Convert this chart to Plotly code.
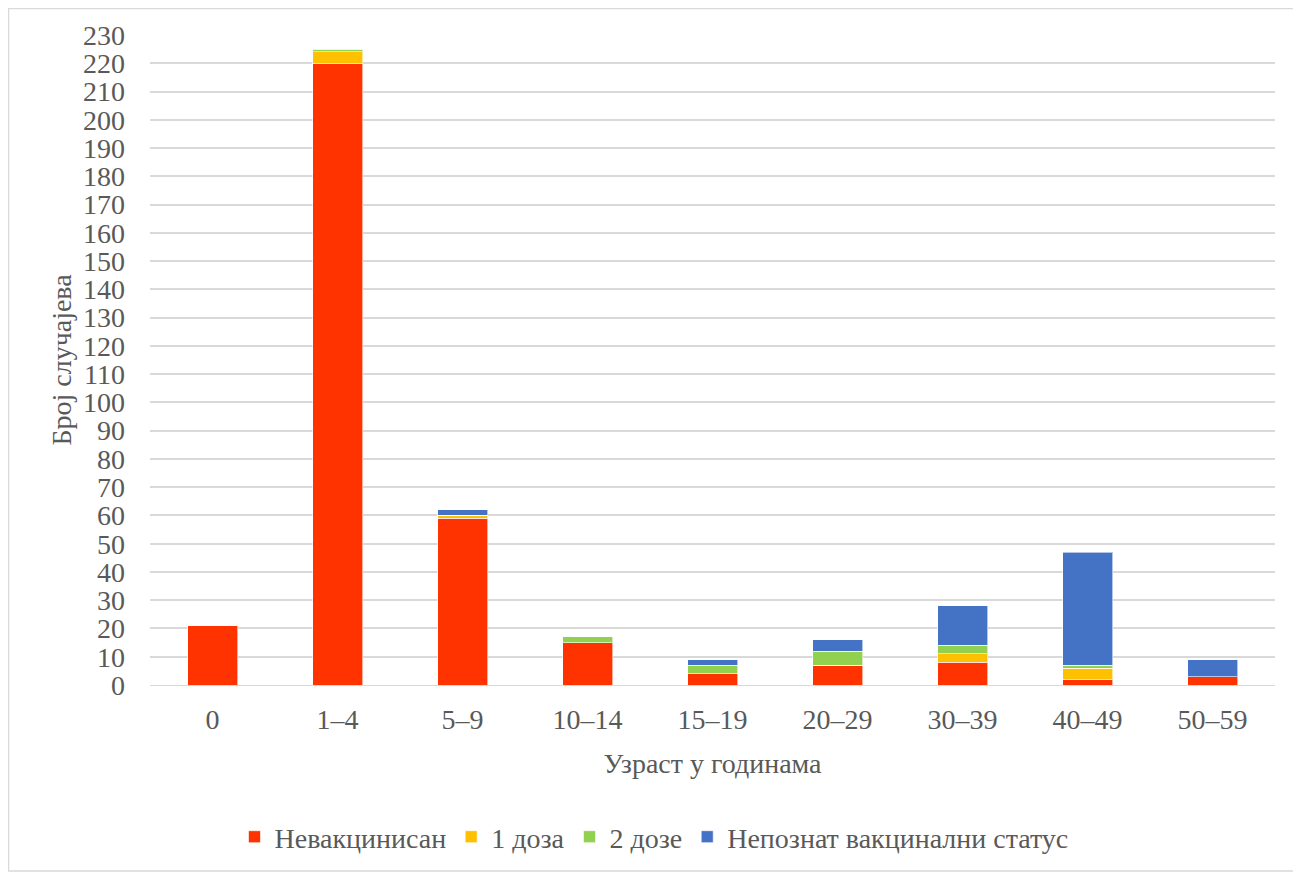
import plotly.graph_objects as go

categories = ["0", "1–4", "5–9", "10–14", "15–19", "20–29", "30–39", "40–49", "50–59"]
unvaccinated = [21, 220, 59, 15, 4, 7, 8, 2, 3]
one_dose = [0, 4, 1, 0, 0, 0, 3, 4, 0]
two_doses = [0, 1, 0, 2, 3, 5, 3, 1, 0]
unknown = [0, 0, 2, 0, 2, 4, 14, 40, 6]

series_names = ["Невакцинисан", "1 доза", "2 дозе", "Непознат вакцинални статус"]
colors = ["#FF3300", "#FFC000", "#92D050", "#4472C4"]

fig = go.Figure()
for name, vals, col in zip(series_names, [unvaccinated, one_dose, two_doses, unknown], colors):
    fig.add_trace(go.Bar(x=categories, y=vals, name=name,
                         marker=dict(color=col, line=dict(color="rgba(255,255,255,0.6)", width=1))))

# page body has an 8px margin; compensate so plot lands where the reference has it
OFF = 8
W, H = 1301, 873
L, R, T, B = 150 - OFF, 1301 - 1275 + OFF, 35 - OFF, 873 - 685 + OFF
pw, ph = W - L - R, H - T - B

def px_to_paper_x(px):
    return (px - OFF - L) / pw

def px_to_paper_y(py):
    return (H - B - (py - OFF)) / ph

FF = "Liberation Serif"
TC = "#595959"
FS = 28
fig.update_layout(
    width=W, height=H, autosize=False,
    margin=dict(l=L, r=R, t=T, b=B),
    barmode="stack", bargap=0.6,
    plot_bgcolor="white", paper_bgcolor="white",
    font=dict(family=FF, size=FS, color=TC),
    showlegend=True,
    legend=dict(orientation="h", x=px_to_paper_x(654), xanchor="center",
                y=px_to_paper_y(837), yanchor="middle",
                font=dict(family=FF, size=FS, color=TC), traceorder="normal"),
    xaxis=dict(title=dict(text="Узраст у годинама", font=dict(family=FF, size=FS, color=TC), standoff=19),
               showgrid=False, showline=True, linecolor="#d9d9d9", linewidth=1,
               tickfont=dict(family=FF, size=FS, color=TC), ticklabelstandoff=9),
    yaxis=dict(title=dict(text="Број случајева", font=dict(family=FF, size=FS, color=TC), standoff=3),
               range=[0, 230], dtick=10, showgrid=True, gridcolor="#d9d9d9", gridwidth=1.5,
               zeroline=False, tickfont=dict(family=FF, size=FS, color=TC), ticklabelstandoff=24),
    shapes=[dict(type="rect", xref="paper", yref="paper",
                 x0=px_to_paper_x(OFF + 0.5), x1=px_to_paper_x(1298),
                 y0=px_to_paper_y(871), y1=px_to_paper_y(OFF + 0.5),
                 line=dict(color="#d9d9d9", width=1.5), fillcolor="rgba(0,0,0,0)", layer="below")],
)

fig.write_html("out.html")
